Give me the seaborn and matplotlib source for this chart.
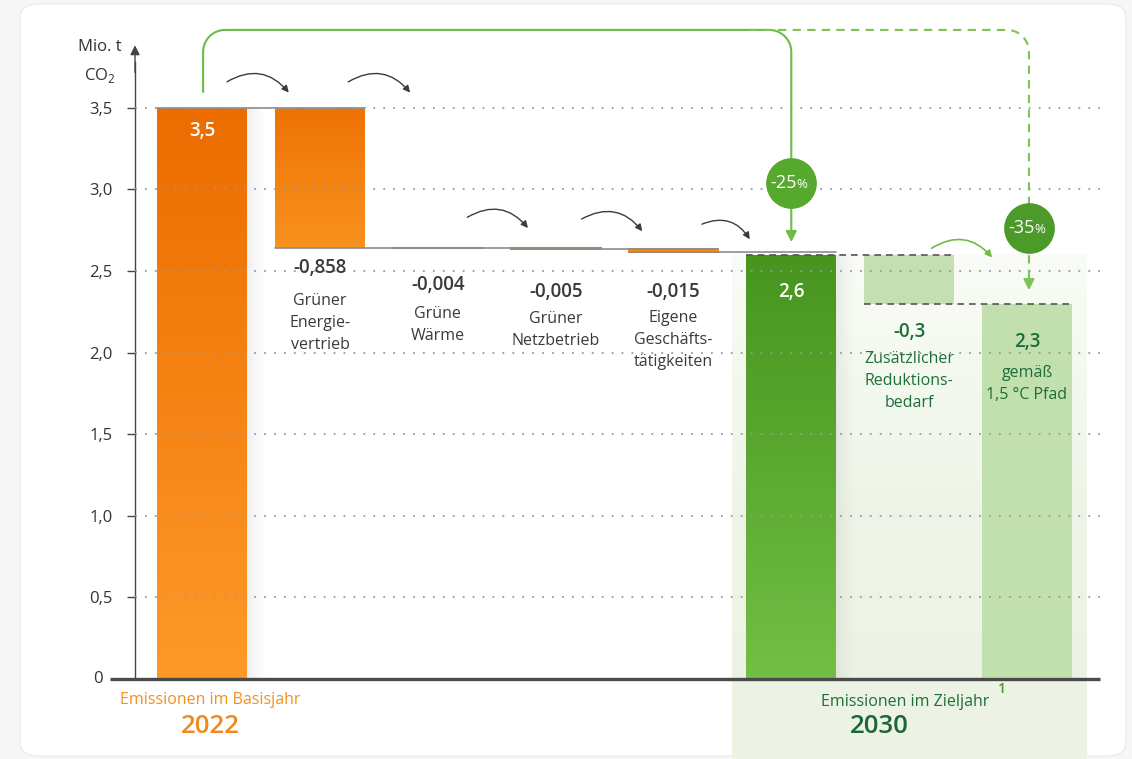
import numpy as np
import pandas as pd
import matplotlib.pyplot as plt
import seaborn as sns
from matplotlib.patches import FancyBboxPatch
from matplotlib.colors import LinearSegmentedColormap

# Daten
kategorien = ['Basisjahr 2022', 'Grüner Energievertrieb', 'Grüne Wärme', 'Grüner Netzbetrieb',
              'Eigene Geschäftstätigkeiten', 'Zieljahr 2030', 'Zusätzlicher Reduktionsbedarf', '1,5 °C Pfad']
werte = [3.5, -0.858, -0.004, -0.005, -0.015, 2.6, -0.3, 2.3]
ist_summe = [True, False, False, False, False, True, False, True]
wert_labels = ['3,5', '-0,858', '-0,004', '-0,005', '-0,015', '2,6', '-0,3', '2,3']
kat_labels = ['', 'Grüner\nEnergie-\nvertrieb', 'Grüne\nWärme', 'Grüner\nNetzbetrieb',
              'Eigene\nGeschäfts-\ntätigkeiten', '', 'Zusätzlicher\nReduktions-\nbedarf', 'gemäß\n1,5 °C Pfad']
y_ticks = [0, 0.5, 1.0, 1.5, 2.0, 2.5, 3.0, 3.5]
y_tick_labels = ['0', '0,5', '1,0', '1,5', '2,0', '2,5', '3,0', '3,5']
prozent_labels = ['-25', '-35']

# Wasserfall berechnen
unten, oben = [], []
stand = 0
for w, s in zip(werte, ist_summe):
    if s:
        unten.append(0)
        oben.append(w)
        stand = w
    else:
        unten.append(stand + w)
        oben.append(stand)
        stand = stand + w
df = pd.DataFrame({'kategorie': kategorien, 'unten': unten, 'oben': oben})
df['hoehe'] = df['oben'] - df['unten']

sns.set_theme(style='white')
plt.rcParams['font.family'] = ['Open Sans', 'DejaVu Sans']

fig = plt.figure(figsize=(11.32, 7.59), dpi=100)
fig.patch.set_facecolor('#f6f6f6')
fig.add_artist(FancyBboxPatch((20 / 1132, 3 / 759), 1106 / 1132, 752 / 759,
                              boxstyle='round,pad=0,rounding_size=0.018',
                              transform=fig.transFigure, fc='white', ec='#ebebeb', lw=1, zorder=-10))

ax = fig.add_axes([135 / 1132, 80 / 759, 965 / 1132, 636.5 / 759])
ax.set_facecolor('none')

XMIN, XMAX, YMAX = -0.57, 7.62, 3.9
sx = (XMAX - XMIN) / 965      # Dateneinheiten pro Pixel
sy = YMAX / 636.5
bw = 0.763

# gruenes Band fuer 2030
band = LinearSegmentedColormap.from_list('band', ['#ecf3e5', '#eef5e8', '#f9fcf6'])
im = ax.imshow(np.linspace(0, 1, 64).reshape(-1, 1), extent=[4.5, 7.508, -0.49, 2.6],
               origin='lower', cmap=band, aspect='auto', zorder=0.2)
im.set_clip_on(False)

sns.barplot(data=df, x='kategorie', y='hoehe', bottom=df['unten'], order=kategorien,
            width=bw, color='#f39020', saturation=1, linewidth=0, ax=ax, zorder=1)

farben = ['#f08a1c', '#f08a1c', '#f08a1c', '#f39020', '#f39020', '#5aa92f', '#c4e0b2', '#c2dfae']
verlauf = {0: ('#ec6c00', '#fd9a28'), 1: ('#ee7204', '#f9921f'), 5: ('#47941f', '#72bf44')}
schatten = np.zeros((1, 64, 4))
schatten[..., :3] = 0.55
schatten[..., 3] = np.linspace(0.22, 0, 64) ** 1.3
for i, p in enumerate(ax.patches):
    p.set_facecolor(farben[i])
    if i in (2, 3, 4):
        p.set_edgecolor(farben[i])
        p.set_linewidth(1.5)
    if i in verlauf:
        c_o, c_u = verlauf[i]
        cm = LinearSegmentedColormap.from_list('v%d' % i, [c_u, c_o])
        g = ax.imshow(np.linspace(0, 1, 256).reshape(-1, 1),
                      extent=[p.get_x(), p.get_x() + p.get_width(), p.get_y(), p.get_y() + p.get_height()],
                      origin='lower', cmap=cm, aspect='auto', zorder=1.1)
        g.set_clip_path(p)
    if i in (0, 5):
        x_r = p.get_x() + p.get_width()
        ax.imshow(schatten, extent=[x_r, x_r + 20 * sx, p.get_y(), p.get_y() + p.get_height()],
                  aspect='auto', zorder=0.9, interpolation='bilinear')

# Verbindungslinien
for i in range(5):
    stand = oben[i] if ist_summe[i] else unten[i]
    ax.plot([i - bw / 2, i + 1 + bw / 2], [stand, stand], color='#8c8c8c', lw=1.2, zorder=1.5)
ax.plot([5 - bw / 2, 6 + bw / 2], [werte[5], werte[5]], color='#555555', lw=1.2,
        ls=(0, (4, 3)), zorder=1.5)
ax.plot([6 - bw / 2, 7 + bw / 2], [werte[7], werte[7]], color='#555555', lw=1.2,
        ls=(0, (4, 3)), zorder=1.5)

# Achsen
ax.set_yticks(y_ticks[1:])
ax.set_yticklabels(y_tick_labels[1:])
ax.set_xticks([])
ax.set_xlabel('')
ax.set_ylabel('')
ax.yaxis.grid(True, linestyle=(0, (1, 4.5)), color='#9a9a9a', lw=1.3)
ax.set_axisbelow(False)
ax.tick_params(axis='y', length=6, width=1, color='#444444', labelsize=12,
               labelcolor='#333333', pad=10, left=True)
for s in ['top', 'right', 'bottom']:
    ax.spines[s].set_visible(False)
ax.spines['left'].set_color('#444444')
ax.spines['left'].set_linewidth(1)
ax.spines['left'].set_bounds(0, 3.78)
ax.annotate('', xy=(XMIN, YMAX), xytext=(XMIN, 3.7), annotation_clip=False,
            arrowprops=dict(arrowstyle='-|>', color='#444444', lw=1, mutation_scale=14))
ax.text(XMIN - 32 * sx, 0, '0', ha='right', va='center', fontsize=12, color='#333333')
ax.plot([XMIN - 25 * sx, XMAX], [0, 0], color='#4a4a4a', lw=2.4, clip_on=False, zorder=3,
        solid_capstyle='butt')
ax.text(-0.865, 3.873, 'Mio. t', ha='center', va='center', fontsize=12, color='#333333')
ax.text(-0.865, 3.70, r'CO$_\mathregular{2}$', ha='center', va='center', fontsize=12, color='#333333')

# Beschriftungen
wert_y = [3.36, 2.518, 2.414, 2.371, 2.371, 2.371, 2.126, 2.065]
kat_y = [0, 2.18, 2.166, 2.141, 2.077, 0, 1.826, 1.81]
wert_farbe = ['white', '#3a3a3a', '#3a3a3a', '#3a3a3a', '#3a3a3a', 'white', '#1f6e3a', '#1f6e3a']
for i in range(len(kategorien)):
    ax.text(i, wert_y[i], wert_labels[i], ha='center', va='center', fontsize=13.5,
            fontweight='semibold', color=wert_farbe[i], zorder=5)
    if kat_labels[i]:
        ax.text(i, kat_y[i], kat_labels[i], ha='center', va='center', fontsize=11.5,
                linespacing=1.5, color='#1f6e3a' if i >= 6 else '#3a3a3a', zorder=5)

ax.text(0.07, -0.129, 'Emissionen im Basisjahr', ha='center', va='center', fontsize=11.5,
        color='#f39020', clip_on=False)
ax.text(0.07, -0.29, '2022', ha='center', va='center', fontsize=18.5, fontweight='semibold',
        color='#f08a1c', clip_on=False)
ax.text(5.97, -0.141, 'Emissionen im Zieljahr', ha='center', va='center', fontsize=11.5,
        color='#1f6e3a', clip_on=False)
ax.text(6.79, -0.06, '1', ha='center', va='center', fontsize=10, fontweight='semibold',
        color='#4a9a2a', clip_on=False)
ax.text(5.75, -0.29, '2030', ha='center', va='center', fontsize=18.5, fontweight='semibold',
        color='#1a6636', clip_on=False)


# gruene Pfeile mit runden Ecken
def eckpfad(x0, y0, x1, y_top, y_tip, farbe, ls, start_vertikal=True):
    rx, ry = 22 * sx, 22 * sy
    xs, ys = [], []
    if start_vertikal:
        xs += [x0, x0]
        ys += [y0, y_top - ry]
        t = np.linspace(np.pi, np.pi / 2, 20)
        xs += list(x0 + rx + rx * np.cos(t))
        ys += list(y_top - ry + ry * np.sin(t))
    else:
        xs += [x0]
        ys += [y_top]
    t = np.linspace(np.pi / 2, 0, 20)
    xs += list(x1 - rx + rx * np.cos(t))
    ys += list(y_top - ry + ry * np.sin(t))
    xs += [x1]
    ys += [y_tip + 0.05]
    ax.plot(xs, ys, color=farbe, lw=1.5, ls=ls, clip_on=False, zorder=4)
    ax.annotate('', xy=(x1, y_tip), xytext=(x1, y_tip + 0.08), annotation_clip=False,
                arrowprops=dict(arrowstyle='-|>', color=farbe, lw=1.5, mutation_scale=16))


eckpfad(0.008, 3.597, 5.0, 3.977, 2.66, '#6cbd45', '-')
eckpfad(4.64, 0, 7.017, 3.977, 2.365, '#7dc356', (0, (4, 3)), start_vertikal=False)

# Kreise mit Prozentwerten
kreise = [(5.0, 3.04, '#57a82e'), (7.017, 2.763, '#4c9a2a')]
for (cx, cy, cf), lab in zip(kreise, prozent_labels):
    ax.plot(cx, cy, 'o', ms=36.5, color=cf, mec='none', clip_on=False, zorder=6)
    ax.annotate(lab, xy=(cx, cy), xytext=(4, 0), textcoords='offset points', ha='right',
                va='center', fontsize=13, color='white', zorder=7)
    ax.annotate('%', xy=(cx, cy), xytext=(4, -1), textcoords='offset points', ha='left',
                va='center', fontsize=9.5, color='white', zorder=7)

# graue Boegen zwischen den Balken
boegen = [((0.19, 3.65), (0.75, 3.58)), ((1.22, 3.65), (1.78, 3.58)),
          ((2.23, 2.82), (2.78, 2.75)), ((3.2, 2.81), (3.75, 2.73)),
          ((4.22, 2.78), (4.66, 2.68))]
for a, b in boegen:
    ax.annotate('', xy=b, xytext=a, annotation_clip=False,
                arrowprops=dict(arrowstyle='-|>', color='#3c3c3c', lw=1,
                                connectionstyle='arc3,rad=-0.45', mutation_scale=10))
ax.annotate('', xy=(6.72, 2.57), xytext=(6.17, 2.63), annotation_clip=False,
            arrowprops=dict(arrowstyle='-|>', color='#6cbd45', lw=1.2,
                            connectionstyle='arc3,rad=-0.45', mutation_scale=10))

ax.set_xlim(XMIN, XMAX)
ax.set_ylim(0, YMAX)

plt.savefig('out.png', dpi=100, facecolor=fig.get_facecolor())
